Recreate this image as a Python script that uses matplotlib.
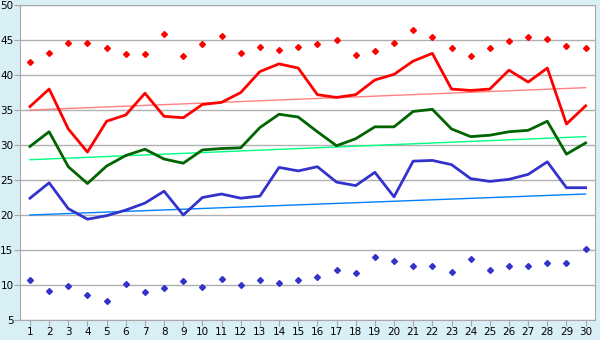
import matplotlib
matplotlib.use('Agg')
import matplotlib.pyplot as plt
import numpy as np

days = np.arange(1, 31)

red_line = [35.5, 38.0, 32.3, 29.0, 33.4, 34.3, 37.4, 34.1, 33.9, 35.8,
            36.1, 37.5, 40.5, 41.6, 41.0, 37.2, 36.8, 37.2, 39.3, 40.1,
            42.0, 43.1, 38.0, 37.8, 38.0, 40.7, 39.0, 41.0, 33.0, 35.6]
green_line = [29.8, 31.9, 26.9, 24.5, 27.0, 28.5, 29.4, 28.0, 27.4, 29.3,
              29.5, 29.6, 32.5, 34.4, 34.0, 31.9, 29.9, 30.9, 32.6, 32.6,
              34.8, 35.1, 32.3, 31.2, 31.4, 31.9, 32.1, 33.4, 28.7, 30.3]
blue_line = [22.4, 24.6, 20.9, 19.4, 19.9, 20.7, 21.7, 23.4, 20.0, 22.5,
             23.0, 22.4, 22.7, 26.8, 26.3, 26.9, 24.7, 24.2, 26.1, 22.6,
             27.7, 27.8, 27.2, 25.2, 24.8, 25.1, 25.8, 27.6, 23.9, 23.9]

# trend lines, start/end values at day 1 and day 30
red_trend = [35.0, 38.2]
green_trend = [27.9, 31.2]
blue_trend = [20.0, 23.0]
trend_days = [1, 30]

red_points = [41.8, 43.2, 44.6, 44.6, 43.9, 43.0, 43.0, 45.8, 42.7, 44.4,
              45.6, 43.2, 44.0, 43.6, 44.0, 44.4, 45.0, 42.8, 43.5, 44.6,
              46.4, 45.4, 43.9, 42.7, 43.9, 44.8, 45.4, 45.2, 44.2, 43.9]
blue_points = [10.7, 9.1, 9.8, 8.5, 7.7, 10.1, 9.0, 9.5, 10.5, 9.7,
               10.8, 10.0, 10.7, 10.3, 10.7, 11.2, 12.2, 11.7, 14.0, 13.4,
               12.7, 12.7, 11.8, 13.7, 12.2, 12.7, 12.7, 13.2, 13.2, 15.1]

fig = plt.figure(figsize=(6, 3.4), dpi=100, facecolor='#d9eff6')
ax = fig.add_axes([0.034, 0.059, 0.958, 0.926])
ax.set_facecolor('white')

ax.plot(trend_days, red_trend, color='#ff8080', lw=1, zorder=2)
ax.plot(trend_days, green_trend, color='#00ff80', lw=1, zorder=2)
ax.plot(trend_days, blue_trend, color='#0080ff', lw=1, zorder=2)

ax.plot(days, red_line, color='#ff0000', lw=2, zorder=3)
ax.plot(days, green_line, color='#006400', lw=2, zorder=3)
ax.plot(days, blue_line, color='#3333cc', lw=2, zorder=3)

ax.plot(days, red_points, ls='none', marker='D', ms=3, color='#ff0000', zorder=4)
ax.plot(days, blue_points, ls='none', marker='D', ms=3, color='#3333cc', zorder=4)

ax.set_xlim(0.5, 30.5)
ax.set_ylim(5, 50)
ax.set_xticks(days)
ax.set_yticks(range(5, 51, 5))
ax.grid(axis='y', color='#b0b0b0', lw=1)
ax.set_axisbelow(True)
for s in ax.spines.values():
    s.set_color('#a8a8a8')
ax.tick_params(colors='#a8a8a8', labelcolor='black', labelsize=7.5, length=4, pad=1)

fig.savefig('out.png', dpi=100, facecolor=fig.get_facecolor())
